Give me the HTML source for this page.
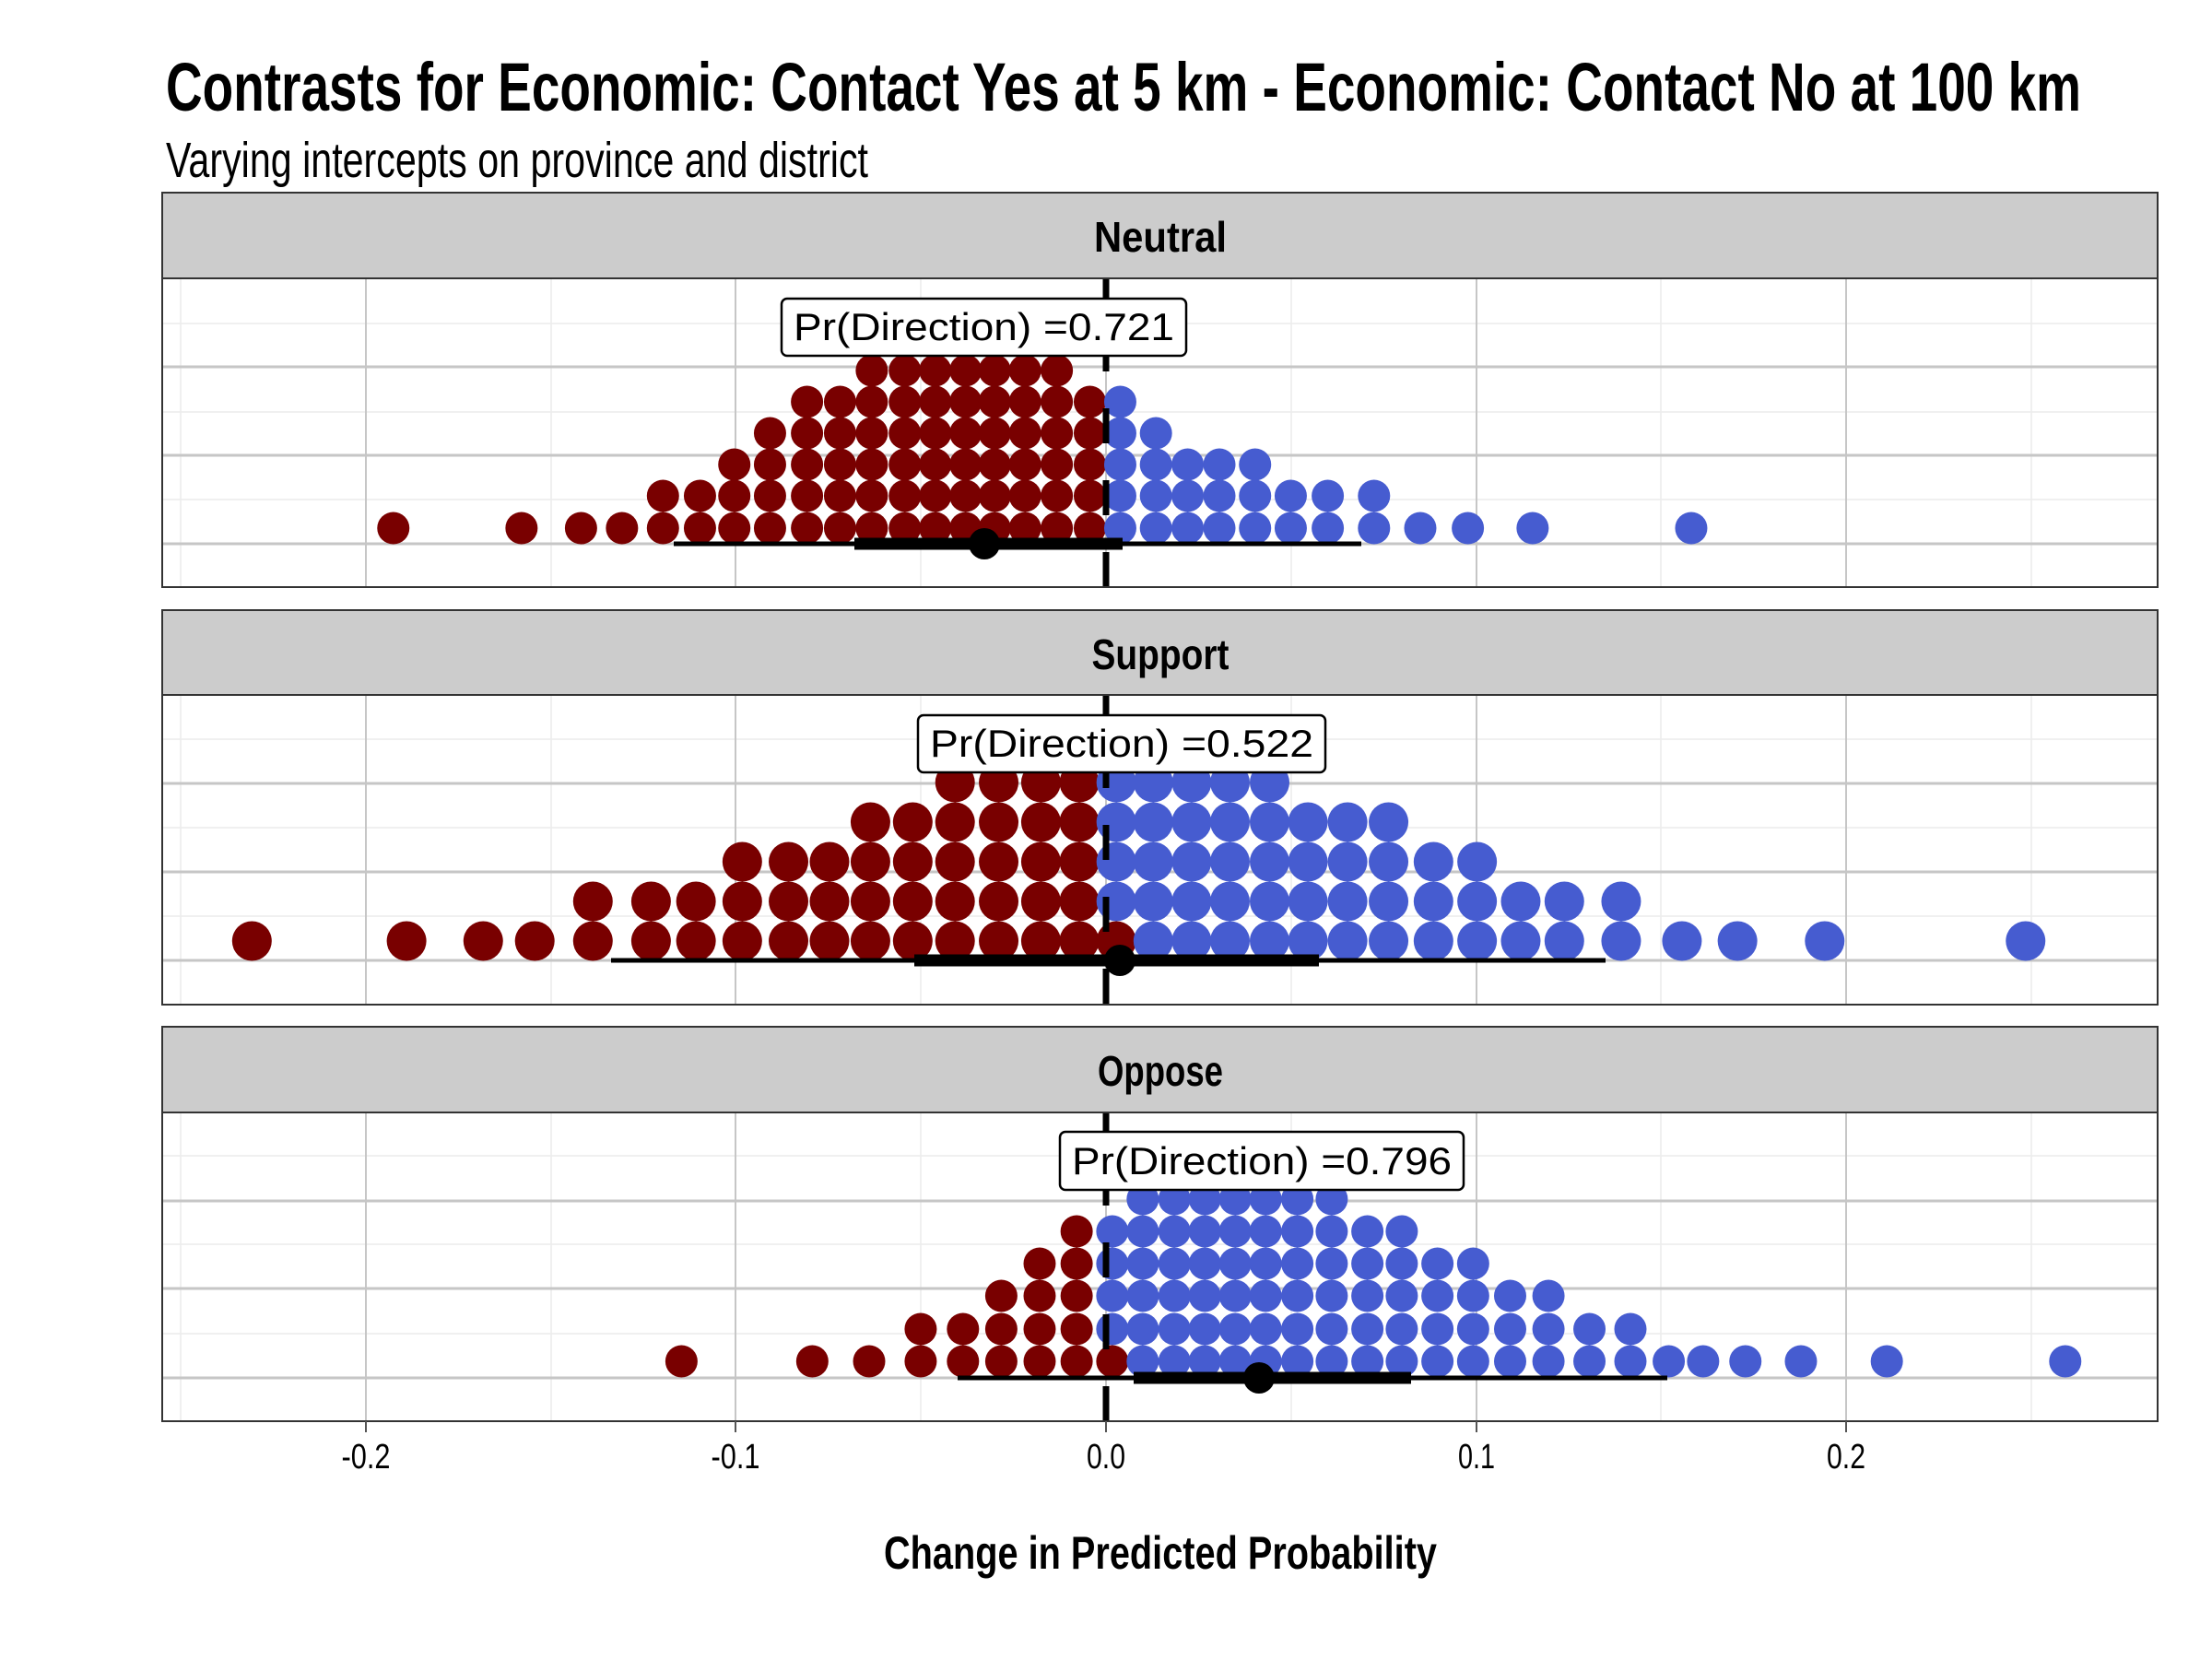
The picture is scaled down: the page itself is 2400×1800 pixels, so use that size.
<!DOCTYPE html>
<html><head><meta charset="utf-8"><style>
html,body{margin:0;padding:0;background:#fff;}
svg{display:block;}
text{font-family:"Liberation Sans Narrow","Liberation Sans",sans-serif;}
</style></head><body>
<svg id="s" xmlns="http://www.w3.org/2000/svg" width="2400" height="1800" viewBox="0 0 2400 1800">
<rect width="2400" height="1800" fill="#fff"/>
<text x="180" y="120" font-size="74" font-weight="bold" textLength="2078" lengthAdjust="spacingAndGlyphs">Contrasts for Economic: Contact Yes at 5 km - Economic: Contact No at 100 km</text>
<text x="180" y="192" font-size="54" textLength="762" lengthAdjust="spacingAndGlyphs">Varying intercepts on province and district</text>
<g id="panels"></g>
<text x="1259" y="1702" font-size="50" font-weight="bold" text-anchor="middle" textLength="600" lengthAdjust="spacingAndGlyphs">Change in Predicted Probability</text>
</svg>
<script>
var NS="http://www.w3.org/2000/svg";
var g=document.getElementById("panels");
function el(t,a,txt){var e=document.createElementNS(NS,t);for(var k in a)e.setAttribute(k,a[k]);if(txt!==undefined)e.textContent=txt;g.appendChild(e);return e;}
function X(z){return 150+z*1.434;}
var L=176,R=2341,RED="#790000",BLUE="#465cd0";
var panels=[
{name:"Neutral",tw:144,st:209,pt:302,pb:637,maj:[398,494,590],min:[351,447,542],r:17.5,
 rows:[[573,[193,290,335,366,397,425,451,478,506,531,555,580,603,626,648,671,695,720],[743,770,794,818,845,872,900,935,970,1006,1055,1175]],
 [538,[397,425,451,478,506,531,555,580,603,626,648,671,695,720],[743,770,794,818,845,872,900,935]],
 [504,[451,478,506,531,555,580,603,626,648,671,695,720],[743,770,794,818,845]],
 [470,[478,506,531,555,580,603,626,648,671,695,720],[743,770]],
 [436,[506,531,555,580,603,626,648,671,695,720],[743]],
 [402,[555,580,603,626,648,671,695],[]]],
 iv:[731,1477,927,1218,1068,590],lab:[848,1287,324,386,"Pr(Direction) =0.721"]},
{name:"Support",tw:149,st:662,pt:754,pb:1090,maj:[850,946,1042],min:[802,898,994],r:21.5,
 rows:[[1021,[86,203,261,300,344,388,422,457,492,523,554,586,618,651,683,712,740],[768,797,826,856,885,915,946,980,1013,1046,1079,1122,1168,1210,1276,1428]],
 [978,[344,388,422,457,492,523,554,586,618,651,683,712],[740,768,797,826,856,885,915,946,980,1013,1046,1079,1122]],
 [935,[457,492,523,554,586,618,651,683,712],[740,768,797,826,856,885,915,946,980,1013]],
 [892,[554,586,618,651,683,712],[740,768,797,826,856,885,915,946]],
 [849,[618,651,683,712],[740,768,797,826,856]]],
 iv:[663,1742,992,1431,1215,1042],lab:[996,1438,776,838,"Pr(Direction) =0.522"]},
{name:"Oppose",tw:136,st:1114,pt:1207,pb:1542,maj:[1303,1398,1495],min:[1254,1350,1447],r:17.5,
 rows:[[1477,[411,510,553,592,624,653,682,710,737],[760,784,807,830,853,877,903,930,956,983,1010,1038,1067,1098,1129,1158,1184,1216,1258,1323,1458]],
 [1442,[592,624,653,682,710],[737,760,784,807,830,853,877,903,930,956,983,1010,1038,1067,1098,1129]],
 [1406,[653,682,710],[737,760,784,807,830,853,877,903,930,956,983,1010,1038,1067]],
 [1371,[682,710],[737,760,784,807,830,853,877,903,930,956,983,1010]],
 [1336,[710],[737,760,784,807,830,853,877,903,930,956]],
 [1301,[],[760,784,807,830,853,877,903]]],
 iv:[1039,1809,1230,1531,1366,1495],lab:[1150,1588,1228,1291,"Pr(Direction) =0.796"]}
];
var majX=[397,798,1200,1602,2003],minX=[196,598,999,1401,1802,2204];
panels.forEach(function(p){
 el("rect",{x:L,y:p.st,width:R-L,height:p.pt-p.st,fill:"#cccccc"});
 el("text",{x:1259,y:p.st+64,"font-size":46,"font-weight":"bold","text-anchor":"middle",textLength:p.tw,lengthAdjust:"spacingAndGlyphs"},p.name);
 el("rect",{x:L,y:p.pt,width:R-L,height:p.pb-p.pt,fill:"#fff"});
 minX.forEach(function(x){el("line",{x1:x,x2:x,y1:p.pt,y2:p.pb,stroke:"#ececec","stroke-width":1.5});});
 p.min.forEach(function(y){el("line",{x1:L,x2:R,y1:y,y2:y,stroke:"#ececec","stroke-width":1.5});});
 majX.forEach(function(x){el("line",{x1:x,x2:x,y1:p.pt,y2:p.pb,stroke:"#c6c6c6","stroke-width":2});});
 p.maj.forEach(function(y){el("line",{x1:L,x2:R,y1:y,y2:y,stroke:"#c6c6c6","stroke-width":3});});
 p.rows.forEach(function(r){
  r[1].forEach(function(z){el("circle",{cx:X(z),cy:r[0],r:p.r,fill:RED});});
  r[2].forEach(function(z){el("circle",{cx:X(z),cy:r[0],r:p.r,fill:BLUE});});
 });
 el("line",{x1:1200,x2:1200,y1:p.pt,y2:p.pb,stroke:"#000","stroke-width":7,"stroke-dasharray":"38 40","stroke-dashoffset":15});
 var v=p.iv;
 el("line",{x1:v[0],x2:v[1],y1:v[5],y2:v[5],stroke:"#000","stroke-width":5});
 el("line",{x1:v[2],x2:v[3],y1:v[5],y2:v[5],stroke:"#000","stroke-width":13});
 el("circle",{cx:v[4],cy:v[5],r:17,fill:"#000"});
 var b=p.lab;
 el("rect",{x:b[0],y:b[2],width:b[1]-b[0],height:b[3]-b[2],rx:6,ry:6,fill:"#fff",stroke:"#000","stroke-width":2.5});
 el("text",{x:(b[0]+b[1])/2,y:b[3]-17,"font-size":42,"text-anchor":"middle",style:"font-family:'Liberation Sans',sans-serif",textLength:(b[1]-b[0]-26),lengthAdjust:"spacingAndGlyphs"},b[4]);
 el("rect",{x:L,y:p.pt,width:R-L,height:p.pb-p.pt,fill:"none",stroke:"#333","stroke-width":2});
 el("rect",{x:L,y:p.st,width:R-L,height:p.pt-p.st,fill:"none",stroke:"#333","stroke-width":2});
});
var labs=["-0.2","-0.1","0.0","0.1","0.2"],tws=[53,53,42,40,42];
majX.forEach(function(x,i){
 el("line",{x1:x,x2:x,y1:1542,y2:1554,stroke:"#555","stroke-width":2});
 el("text",{x:x,y:1593,"font-size":38,"text-anchor":"middle",textLength:tws[i],lengthAdjust:"spacingAndGlyphs"},labs[i]);
});
</script>
</body></html>
